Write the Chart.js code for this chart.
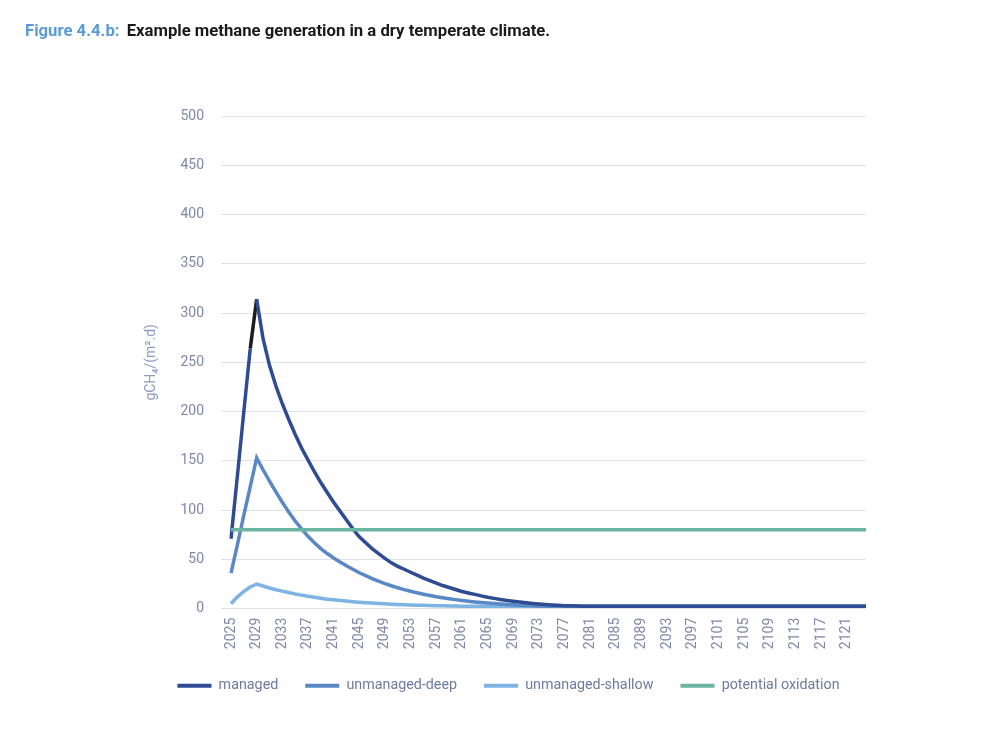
<!DOCTYPE html>
<html>
<head>
<meta charset="utf-8">
<script src="https://cdn.jsdelivr.net/npm/chart.js@4.4.1/dist/chart.umd.min.js"></script>
<style>
  html, body { margin: 0; padding: 0; background: #ffffff; }
  #wrap { position: relative; width: 1000px; height: 729px; overflow: hidden; }
  #title { position: absolute; left: 25px; top: 21px; font-family: Roboto, "Liberation Sans", sans-serif; font-weight: 700; font-size: 16.7px; color: #1a1a1a; white-space: nowrap; }
  #title .fig { color: #5b9bd5; margin-right: 3px; }
  canvas { position: absolute; left: 0; top: 0; }
</style>
</head>
<body>
<div id="wrap">
  <canvas id="c" width="1000" height="729"></canvas>
  <div id="title"><span class="fig">Figure 4.4.b:</span> Example methane generation in a dry temperate climate.</div>
</div>
<script>
const years = [
  2025,2026,2027,2028,2029,2030,2031,2032,2033,2034,
  2035,2036,2037,2038,2039,2040,2041,2042,2043,2044,
  2045,2046,2047,2048,2049,2050,2051,2052,2053,2054,
  2055,2056,2057,2058,2059,2060,2061,2062,2063,2064,
  2065,2066,2067,2068,2069,2070,2071,2072,2073,2074,
  2075,2076,2077,2078,2079,2080,2081,2082,2083,2084,
  2085,2086,2087,2088,2089,2090,2091,2092,2093,2094,
  2095,2096,2097,2098,2099,2100,2101,2102,2103,2104,
  2105,2106,2107,2108,2109,2110,2111,2112,2113,2114,
  2115,2116,2117,2118,2119,2120,2121,2122,2123,2124
];

const shownYearLabels = [
  2025,2029,2033,2037,2041,2045,2049,2053,2057,2061,2065,2069,2073,
  2077,2081,2085,2089,2093,2097,2101,2105,2109,2113,2117,2121
];

const yTickValues = [0,50,100,150,200,250,300,350,400,450,500];

const managed = [
  71,135,200,264,314,274,247,226,208,192,
  177,163,151,139,128,118,108,99,90,81,
  73,67,61,56,51,46.5,43,40,37,34,
  31,28.5,26,23.5,21.5,19.5,17.5,16,14.5,13,
  11.7,10.5,9.4,8.4,7.5,6.7,6,5.3,4.7,4.2,
  3.8,3.4,3.1,2.9,2.7,2.5,2.5,2.5,2.5,2.5,
  2.5,2.5,2.5,2.5,2.5,2.5,2.5,2.5,2.5,2.5,
  2.5,2.5,2.5,2.5,2.5,2.5,2.5,2.5,2.5,2.5,
  2.5,2.5,2.5,2.5,2.5,2.5,2.5,2.5,2.5,2.5,
  2.5,2.5,2.5,2.5,2.5,2.5,2.5,2.5,2.5,2.5
];

const unmanagedDeep = [
  36,65,95,124,153,141,129.5,118.5,108,98,
  89,81,73.5,67,61,56,51.5,47.5,43.5,40,
  36.5,33.5,30.5,28,25.5,23.3,21.2,19.4,17.7,16.1,
  14.7,13.4,12.2,11.1,10.1,9.2,8.4,7.6,6.9,6.3,
  5.7,5.2,4.7,4.3,3.9,3.6,3.3,3.05,2.8,2.6,
  2.5,2.5,2.5,2.5,2.5,2.5,2.5,2.5,2.5,2.5,
  2.5,2.5,2.5,2.5,2.5,2.5,2.5,2.5,2.5,2.5,
  2.5,2.5,2.5,2.5,2.5,2.5,2.5,2.5,2.5,2.5,
  2.5,2.5,2.5,2.5,2.5,2.5,2.5,2.5,2.5,2.5,
  2.5,2.5,2.5,2.5,2.5,2.5,2.5,2.5,2.5,2.5
];

const unmanagedShallow = [
  5,12,17.5,22,25,23,21,19.3,17.8,16.4,
  15,13.8,12.7,11.6,10.6,9.7,9,8.3,7.7,7.1,
  6.6,6.1,5.7,5.3,4.9,4.6,4.3,4,3.8,3.6,
  3.4,3.2,3,2.9,2.8,2.7,2.6,2.5,2.5,2.5,
  2.5,2.5,2.5,2.5,2.5,2.5,2.5,2.5,2.5,2.5,
  2.5,2.5,2.5,2.5,2.5,2.5,2.5,2.5,2.5,2.5,
  2.5,2.5,2.5,2.5,2.5,2.5,2.5,2.5,2.5,2.5,
  2.5,2.5,2.5,2.5,2.5,2.5,2.5,2.5,2.5,2.5,
  2.5,2.5,2.5,2.5,2.5,2.5,2.5,2.5,2.5,2.5,
  2.5,2.5,2.5,2.5,2.5,2.5,2.5,2.5,2.5,2.5
];

const potentialOxidation = [
  80,80,80,80,80,80,80,80,80,80,
  80,80,80,80,80,80,80,80,80,80,
  80,80,80,80,80,80,80,80,80,80,
  80,80,80,80,80,80,80,80,80,80,
  80,80,80,80,80,80,80,80,80,80,
  80,80,80,80,80,80,80,80,80,80,
  80,80,80,80,80,80,80,80,80,80,
  80,80,80,80,80,80,80,80,80,80,
  80,80,80,80,80,80,80,80,80,80,
  80,80,80,80,80,80,80,80,80,80
];

const seriesNames = ['managed', 'unmanaged-deep', 'unmanaged-shallow', 'potential oxidation'];
const yTitle = 'gCH\u2084/(m\u00b2.d)';

const FONT = 'Roboto, "Liberation Sans", sans-serif';

const legendShift = {
  id: 'legendShift',
  afterLayout(chart) {
    if (chart.legend) {
      chart.legend.left += 6;
      chart.legend.right += 6;
    }
  }
};

new Chart(document.getElementById('c'), {
  type: 'line',
  plugins: [legendShift],
  data: {
    labels: years,
    datasets: [
      {
        label: seriesNames[0], data: managed, borderColor: '#2f4b94', backgroundColor: '#2f4b94',
        borderWidth: 3.5, pointRadius: 0, tension: 0, order: 1,
        segment: { borderColor: ctx => (ctx.p0DataIndex === 3 ? '#1c1c1c' : undefined) }
      },
      {
        label: seriesNames[1], data: unmanagedDeep, borderColor: '#5a87c5', backgroundColor: '#5a87c5',
        borderWidth: 3.5, pointRadius: 0, tension: 0, order: 2
      },
      {
        label: seriesNames[2], data: unmanagedShallow, borderColor: '#7db4e3', backgroundColor: '#7db4e3',
        borderWidth: 3.5, pointRadius: 0, tension: 0, order: 3
      },
      {
        label: seriesNames[3], data: potentialOxidation, borderColor: '#6ab59f', backgroundColor: '#6ab59f',
        borderWidth: 3.5, pointRadius: 0, tension: 0, order: 0
      }
    ]
  },
  options: {
    responsive: false,
    animation: false,
    layout: { padding: { left: 139, right: 134, top: 116, bottom: 26 } },
    plugins: {
      tooltip: { enabled: false },
      legend: {
        position: 'bottom',
        labels: {
          boxWidth: 34,
          boxHeight: 4,
          padding: 27,
          color: '#6e7aa0',
          font: { family: FONT, size: 14.3 },
          sort: (a, b) => a.datasetIndex - b.datasetIndex,
          generateLabels: chart => chart.data.datasets.map((ds, i) => ({
            text: ds.label,
            fillStyle: ds.borderColor,
            strokeStyle: ds.borderColor,
            lineWidth: 0,
            hidden: false,
            datasetIndex: i,
            fontColor: '#6e7aa0'
          }))
        }
      }
    },
    scales: {
      x: {
        type: 'category',
        offset: false,
        grid: { display: false, drawTicks: false },
        border: { display: false },
        ticks: {
          autoSkip: false,
          minRotation: 90,
          maxRotation: 90,
          padding: 9,
          color: '#7f88a8',
          font: { family: FONT, size: 14 },
          callback: function (value, index) {
            const y = years[index];
            return shownYearLabels.includes(y) ? String(y) : null;
          }
        },
        afterFit: scale => { scale.height = 43; }
      },
      y: {
        min: 0,
        max: 500,
        afterBuildTicks: scale => { scale.ticks = yTickValues.map(v => ({ value: v })); },
        grid: { color: '#dde1f0', lineWidth: 1, drawTicks: true, tickLength: 10 },
        border: { display: false },
        ticks: {
          padding: 17,
          color: '#7f88a8',
          font: { family: FONT, size: 14 }
        },
        title: {
          display: true,
          text: yTitle,
          color: '#8e9bc4',
          font: { family: FONT, size: 14 },
          padding: { top: 4, bottom: 4 }
        },
        afterFit: scale => { scale.width = 92; }
      }
    }
  }
});
</script>
</body>
</html>
